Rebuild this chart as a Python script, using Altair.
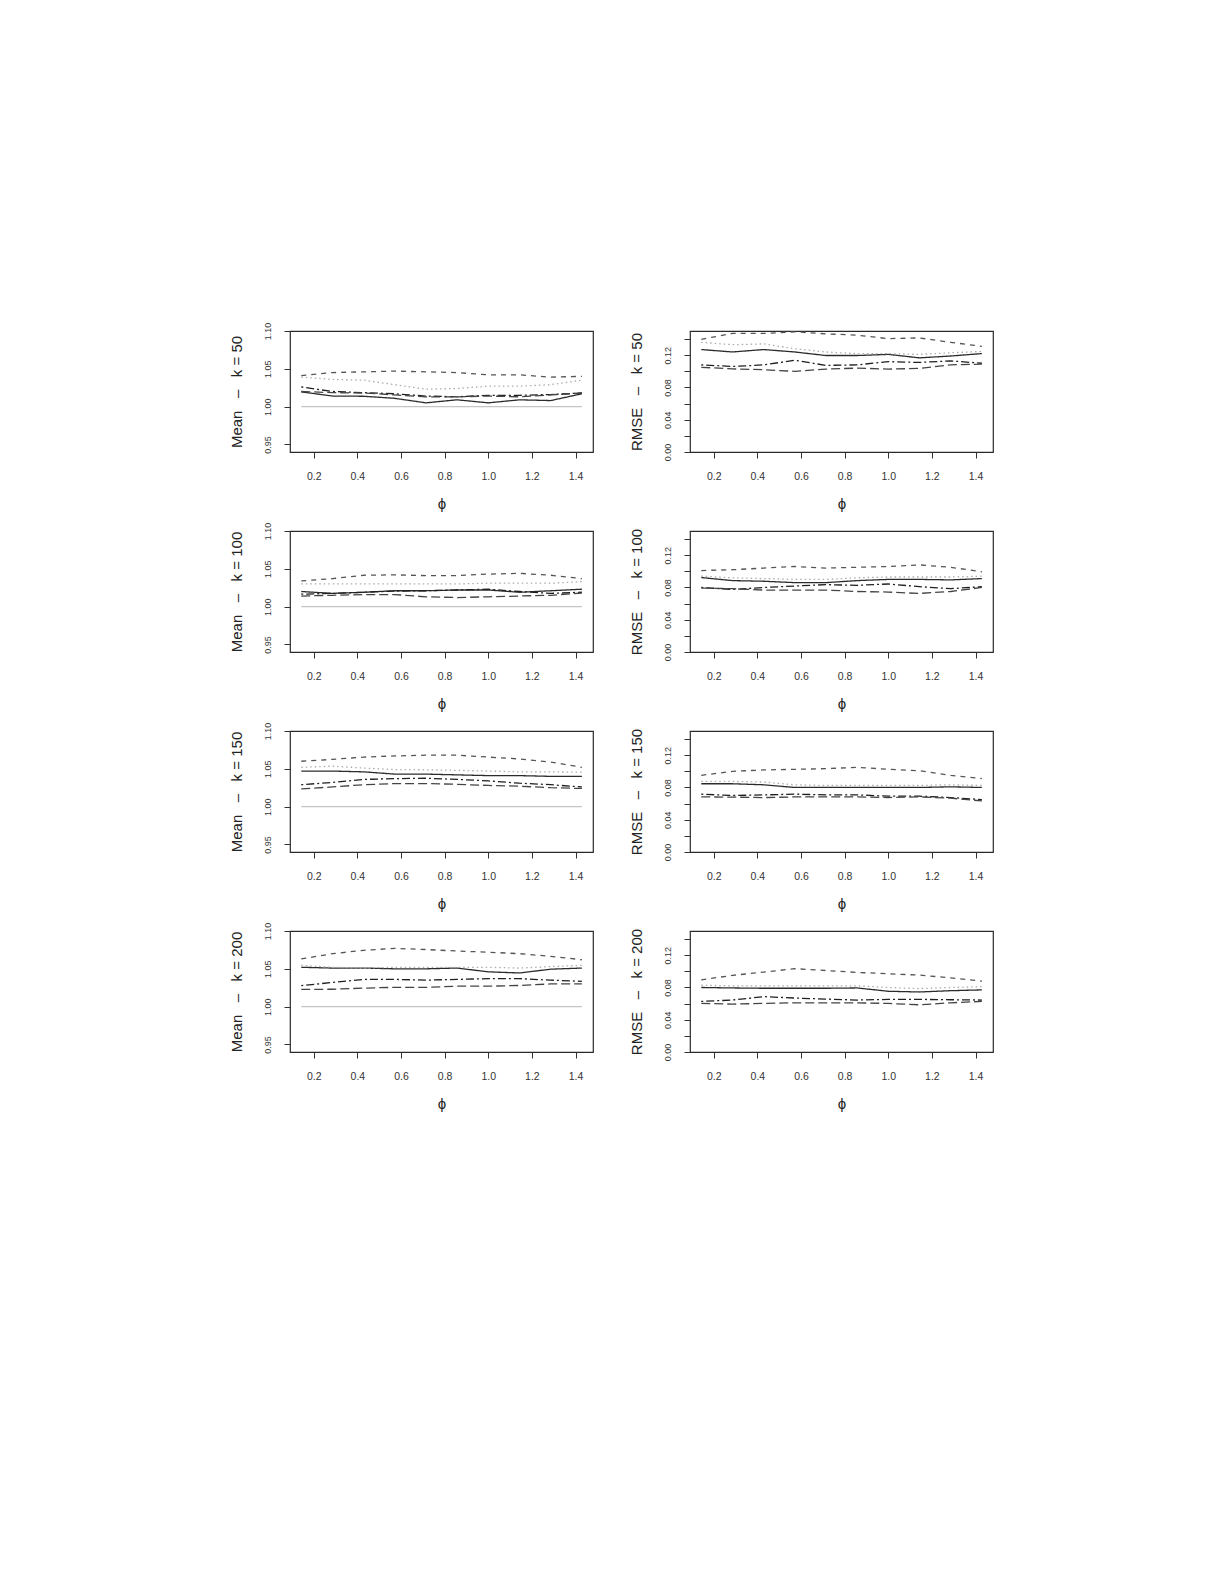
import altair as alt
import pandas as pd

# phi grid (x values)
phi = [0.143, 0.286, 0.429, 0.571, 0.714, 0.857, 1.000, 1.143, 1.286, 1.429]

series_names = ["Line 1", "Line 2", "Line 3", "Line 4", "Line 5"]
k_values = [50, 100, 150, 200]

# ---- Mean panels ----
mean_k50_s1 = [1.0195, 1.014, 1.0137, 1.011, 1.005, 1.009, 1.005, 1.009, 1.008, 1.017]
mean_k50_s2 = [1.041, 1.045, 1.046, 1.047, 1.046, 1.045, 1.042, 1.042, 1.039, 1.040]
mean_k50_s3 = [1.039, 1.036, 1.035, 1.029, 1.023, 1.024, 1.027, 1.027, 1.029, 1.035]
mean_k50_s4 = [1.026, 1.020, 1.0185, 1.017, 1.014, 1.013, 1.015, 1.015, 1.016, 1.018]
mean_k50_s5 = [1.020, 1.0185, 1.018, 1.0155, 1.013, 1.013, 1.014, 1.013, 1.0155, 1.018]

mean_k100_s1 = [1.020, 1.0175, 1.019, 1.021, 1.021, 1.022, 1.022, 1.019, 1.021, 1.023]
mean_k100_s2 = [1.034, 1.037, 1.0415, 1.042, 1.041, 1.041, 1.043, 1.044, 1.0415, 1.037]
mean_k100_s3 = [1.030, 1.030, 1.030, 1.030, 1.030, 1.030, 1.031, 1.031, 1.031, 1.033]
mean_k100_s4 = [1.0165, 1.0175, 1.019, 1.0205, 1.021, 1.022, 1.023, 1.020, 1.0175, 1.019]
mean_k100_s5 = [1.014, 1.015, 1.016, 1.016, 1.013, 1.012, 1.013, 1.014, 1.015, 1.018]

mean_k150_s1 = [1.047, 1.047, 1.046, 1.043, 1.043, 1.042, 1.041, 1.041, 1.040, 1.040]
mean_k150_s2 = [1.060, 1.0625, 1.0655, 1.067, 1.068, 1.068, 1.0655, 1.063, 1.059, 1.052]
mean_k150_s3 = [1.052, 1.0535, 1.051, 1.049, 1.0487, 1.048, 1.047, 1.046, 1.046, 1.0455]
mean_k150_s4 = [1.029, 1.032, 1.036, 1.037, 1.0375, 1.036, 1.034, 1.031, 1.029, 1.026]
mean_k150_s5 = [1.0235, 1.026, 1.029, 1.0305, 1.0305, 1.0295, 1.028, 1.027, 1.025, 1.024]

mean_k200_s1 = [1.052, 1.051, 1.051, 1.050, 1.050, 1.051, 1.046, 1.0445, 1.0495, 1.051]
mean_k200_s2 = [1.063, 1.070, 1.0745, 1.077, 1.0755, 1.0735, 1.072, 1.070, 1.0665, 1.062]
mean_k200_s3 = [1.0545, 1.052, 1.051, 1.052, 1.052, 1.052, 1.052, 1.051, 1.053, 1.0545]
mean_k200_s4 = [1.0277, 1.032, 1.036, 1.036, 1.035, 1.036, 1.037, 1.037, 1.035, 1.0335]
mean_k200_s5 = [1.0228, 1.023, 1.0245, 1.0255, 1.0255, 1.027, 1.027, 1.028, 1.030, 1.030]

# ---- RMSE panels ----
rmse_k50_s1 = [0.127, 0.124, 0.127, 0.124, 0.1196, 0.1196, 0.121, 0.1167, 0.119, 0.122]
rmse_k50_s2 = [0.1397, 0.147, 0.147, 0.149, 0.1465, 0.1448, 0.1406, 0.1414, 0.136, 0.131]
rmse_k50_s3 = [0.136, 0.133, 0.134, 0.128, 0.124, 0.122, 0.122, 0.121, 0.123, 0.1246]
rmse_k50_s4 = [0.108, 0.106, 0.108, 0.1137, 0.1074, 0.108, 0.112, 0.111, 0.113, 0.110]
rmse_k50_s5 = [0.105, 0.103, 0.102, 0.100, 0.1028, 0.104, 0.1028, 0.1036, 0.108, 0.109]

rmse_k100_s1 = [0.0923, 0.0885, 0.0877, 0.086, 0.086, 0.0885, 0.090, 0.090, 0.0894, 0.091]
rmse_k100_s2 = [0.101, 0.102, 0.104, 0.106, 0.104, 0.105, 0.106, 0.108, 0.105, 0.0995]
rmse_k100_s3 = [0.094, 0.092, 0.091, 0.090, 0.090, 0.092, 0.093, 0.093, 0.093, 0.094]
rmse_k100_s4 = [0.080, 0.0776, 0.080, 0.0818, 0.0835, 0.0827, 0.0843, 0.081, 0.0785, 0.081]
rmse_k100_s5 = [0.0793, 0.0785, 0.0768, 0.0768, 0.0768, 0.075, 0.0743, 0.0726, 0.075, 0.080]

rmse_k150_s1 = [0.0846, 0.0846, 0.0833, 0.080, 0.080, 0.080, 0.080, 0.080, 0.0808, 0.080]
rmse_k150_s2 = [0.095, 0.100, 0.1017, 0.1025, 0.1033, 0.105, 0.1025, 0.1008, 0.095, 0.091]
rmse_k150_s3 = [0.0875, 0.0875, 0.0867, 0.0833, 0.0825, 0.0825, 0.0825, 0.0825, 0.0833, 0.0825]
rmse_k150_s4 = [0.0717, 0.070, 0.0708, 0.0717, 0.0708, 0.0708, 0.0692, 0.0692, 0.0675, 0.065]
rmse_k150_s5 = [0.0683, 0.068, 0.0675, 0.0683, 0.0683, 0.0683, 0.0675, 0.0683, 0.0667, 0.0633]

rmse_k200_s1 = [0.080, 0.0794, 0.079, 0.079, 0.079, 0.0794, 0.0753, 0.0744, 0.076, 0.077]
rmse_k200_s2 = [0.0895, 0.095, 0.099, 0.1033, 0.101, 0.0987, 0.097, 0.0953, 0.092, 0.0878]
rmse_k200_s3 = [0.0828, 0.082, 0.082, 0.082, 0.082, 0.082, 0.080, 0.0786, 0.080, 0.081]
rmse_k200_s4 = [0.0627, 0.0644, 0.0686, 0.0669, 0.0656, 0.0644, 0.0652, 0.0652, 0.0648, 0.0644]
rmse_k200_s5 = [0.0602, 0.0594, 0.0602, 0.061, 0.061, 0.061, 0.0602, 0.0585, 0.061, 0.0627]

mean_sets = {
    50: [mean_k50_s1, mean_k50_s2, mean_k50_s3, mean_k50_s4, mean_k50_s5],
    100: [mean_k100_s1, mean_k100_s2, mean_k100_s3, mean_k100_s4, mean_k100_s5],
    150: [mean_k150_s1, mean_k150_s2, mean_k150_s3, mean_k150_s4, mean_k150_s5],
    200: [mean_k200_s1, mean_k200_s2, mean_k200_s3, mean_k200_s4, mean_k200_s5],
}
rmse_sets = {
    50: [rmse_k50_s1, rmse_k50_s2, rmse_k50_s3, rmse_k50_s4, rmse_k50_s5],
    100: [rmse_k100_s1, rmse_k100_s2, rmse_k100_s3, rmse_k100_s4, rmse_k100_s5],
    150: [rmse_k150_s1, rmse_k150_s2, rmse_k150_s3, rmse_k150_s4, rmse_k150_s5],
    200: [rmse_k200_s1, rmse_k200_s2, rmse_k200_s3, rmse_k200_s4, rmse_k200_s5],
}

x_ticks = [0.2, 0.4, 0.6, 0.8, 1.0, 1.2, 1.4]
mean_ticks = [0.95, 1.00, 1.05, 1.10]
rmse_ticks = [0.00, 0.02, 0.04, 0.06, 0.08, 0.10, 0.12, 0.14]
reference_level = 1.0

line_colors = ["#2b2b2b", "#555555", "#ababab", "#1f1f1f", "#444444"]
line_dashes = [[1, 0], [5, 5], [1.5, 3], [2, 3, 8, 3], [9, 4]]

FONT = "Liberation Sans"
PW, PH = 303, 121
NB = "\u00a0"


def to_frame(series_list):
    rows = []
    for name, vals in zip(series_names, series_list):
        for x, y in zip(phi, vals):
            rows.append({"phi": x, "value": y, "series": name})
    return pd.DataFrame(rows)


def x_axis():
    return alt.Axis(values=x_ticks, format=".1f", title="ϕ", labelFontSize=10.5,
                    labelPadding=13, titleFontSize=15, titlePadding=15,
                    grid=False, domain=False, tickSize=6, tickColor="#333333",
                    labelColor="#333333", titleColor="#222222", titleFontWeight="normal",
                    labelFont=FONT, titleFont=FONT)


x_scale = alt.Scale(domain=[0.0914, 1.480], nice=False, zero=False)


def y_axis(kind, title):
    common = dict(title=title, grid=False, domain=False, tickSize=6, tickColor="#333333",
                  labelColor="#333333", titleColor="#222222", titleFontWeight="normal",
                  labelFont=FONT, titleFont=FONT, labelAngle=270, labelAlign="center",
                  labelBaseline="bottom", labelFontSize=9, labelPadding=12,
                  titleFontSize=15, titlePadding=19)
    if kind == "Mean":
        return alt.Axis(values=mean_ticks, format=".2f", **common)
    return alt.Axis(values=rmse_ticks,
                    labelExpr="(round(datum.value*100) % 4 == 0) ? format(datum.value, '.2f') : ''",
                    **common)


def panel(kind, k):
    if kind == "Mean":
        data = to_frame(mean_sets[k])
        yscale = alt.Scale(domain=[0.94, 1.10], nice=False, zero=False)
    else:
        data = to_frame(rmse_sets[k])
        yscale = alt.Scale(domain=[0.0, 0.15], nice=False, zero=False)
    title = f"{kind}{NB}{NB}{NB}–{NB}{NB}{NB}k = {k}"

    lines = alt.Chart(data).mark_line(strokeWidth=1.3).encode(
        x=alt.X("phi:Q", scale=x_scale, axis=x_axis()),
        y=alt.Y("value:Q", scale=yscale, axis=y_axis(kind, title)),
        color=alt.Color("series:N", scale=alt.Scale(domain=series_names, range=line_colors), legend=None),
        strokeDash=alt.StrokeDash("series:N", scale=alt.Scale(domain=series_names, range=line_dashes), legend=None),
    )
    layers = []
    if kind == "Mean":
        ref = pd.DataFrame({"x0": [phi[0]], "x1": [phi[-1]], "y": [reference_level]})
        rule = alt.Chart(ref).mark_rule(color="#c4c4c4", strokeWidth=1.3).encode(
            x=alt.X("x0:Q", scale=x_scale, axis=x_axis()),
            x2="x1:Q",
            y=alt.Y("y:Q", scale=yscale, axis=y_axis(kind, title)),
        )
        layers.append(rule)
    layers.append(lines)
    return alt.layer(*layers).properties(width=PW, height=PH)


panels = []
for k in k_values:
    panels.append(panel("Mean", k))
    panels.append(panel("RMSE", k))

chart = alt.concat(*panels, columns=2, spacing={"row": 79, "column": 97}, bounds="flush").properties(
    padding={"left": 220, "top": 313, "right": 5, "bottom": 5},
    background="white",
).configure_view(
    stroke="#2a2a2a", strokeWidth=1.2
)

chart.save("out.html", embed_options={"renderer": "svg", "actions": False})
